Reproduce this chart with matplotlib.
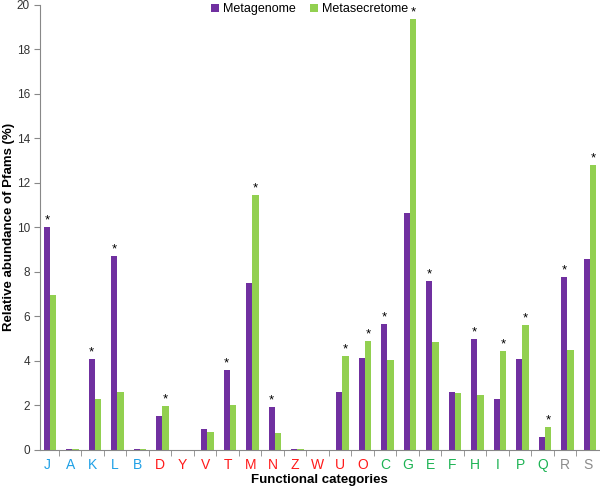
import matplotlib
matplotlib.use("Agg")
import matplotlib.pyplot as plt
import numpy as np

plt.rcParams["font.family"] = ["Liberation Sans", "DejaVu Sans"]

categories = ["J", "A", "K", "L", "B", "D", "Y", "V", "T", "M", "N", "Z", "W",
              "U", "O", "C", "G", "E", "F", "H", "I", "P", "Q", "R", "S"]
metagenome = [10.01, 0.05, 4.09, 8.70, 0.05, 1.53, 0.0, 0.93, 3.58, 7.50, 1.95, 0.03, 0.0,
              2.59, 4.12, 5.65, 10.66, 7.61, 2.59, 5.00, 2.28, 4.07, 0.58, 7.79, 8.58]
metasecretome = [6.97, 0.03, 2.31, 2.60, 0.02, 1.99, 0.0, 0.80, 2.02, 11.46, 0.76, 0.02, 0.0,
                 4.22, 4.90, 4.03, 19.37, 4.87, 2.56, 2.49, 4.45, 5.62, 1.02, 4.51, 12.80]
# which series carries the significance star for each category
star_on = ["M", "", "M", "M", "", "S", "", "", "M", "S", "M", "", "",
           "S", "S", "M", "S", "M", "", "M", "S", "S", "S", "M", "S"]
label_groups = ["blue"] * 5 + ["red"] * 10 + ["green"] * 8 + ["gray"] * 2
group_colors = {"blue": "#1EA0E6", "red": "#FF1A1A", "green": "#1DB354", "gray": "#8C8C8C"}

purple = "#7030A0"
green = "#92D050"

fig = plt.figure(figsize=(6.0, 4.88), dpi=100)
ax = fig.add_axes([0.066, 0.078, 0.932, 0.912])

x = np.arange(len(categories))
w = 0.28
off = 0.1
ax.bar(x - w / 2 + off, metagenome, width=w, color=purple, label="Metagenome")
ax.bar(x + w / 2 + off, metasecretome, width=w, color=green, label="Metasecretome")

for i, s in enumerate(star_on):
    if s == "M":
        ax.text(x[i] - w / 2 + off, metagenome[i] + 0.02, "*", ha="center", va="bottom", fontsize=9.5)
    elif s == "S":
        ax.text(x[i] + w / 2 + off, metasecretome[i] + 0.02, "*", ha="center", va="bottom", fontsize=9.5)

ax.set_xlim(-0.36, len(categories) - 0.5)
ax.set_ylim(0, 20)
ax.set_yticks(np.arange(0, 21, 2))
ax.tick_params(axis="y", labelsize=8.5, length=4, color="#888888", labelcolor="#333333", pad=3)

ax.set_xticks(x)
ax.set_xticklabels(categories, fontsize=10)
for lbl, g in zip(ax.get_xticklabels(), label_groups):
    lbl.set_color(group_colors[g])
ax.tick_params(axis="x", length=0, pad=6)
ax.set_xticks(np.arange(0.5, len(categories) - 0.5, 1), minor=True)
ax.tick_params(axis="x", which="minor", length=4, color="#888888")

for sp in ["top", "right"]:
    ax.spines[sp].set_visible(False)
for sp in ["left", "bottom"]:
    ax.spines[sp].set_color("#888888")

ax.set_ylabel("Relative abundance of Pfams (%)", fontsize=9.5, fontweight="bold", labelpad=1)
ax.set_xlabel("Functional categories", fontsize=9.5, fontweight="bold", labelpad=1)

leg = fig.legend(loc="upper center", bbox_to_anchor=(0.516, 1.016), ncol=2, frameon=False,
                 fontsize=9, handlelength=0.6, handleheight=0.6, handletextpad=0.3,
                 columnspacing=1.2)

fig.savefig("out.png", dpi=100)
